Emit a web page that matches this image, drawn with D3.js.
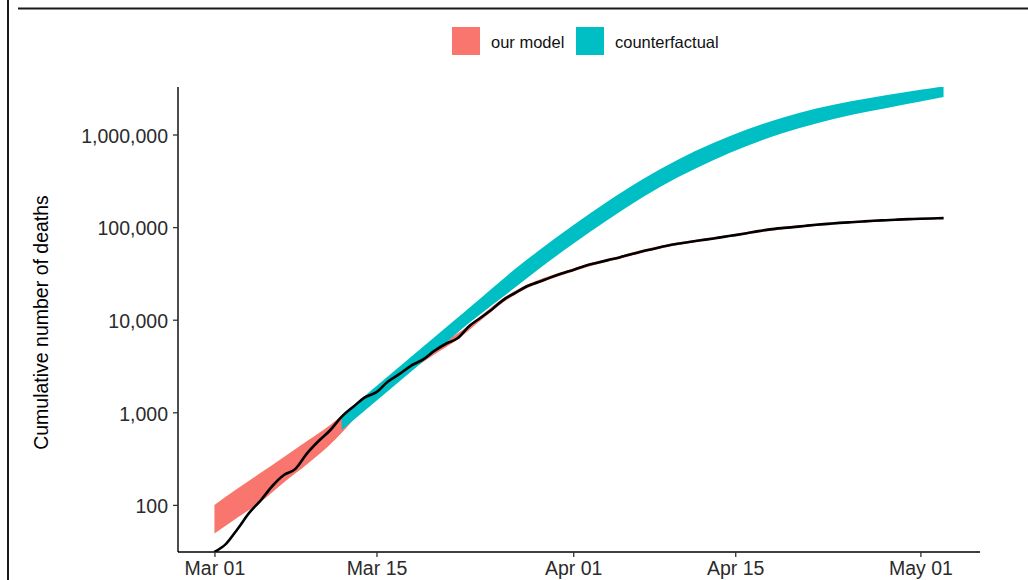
<!DOCTYPE html>
<html>
<head>
<meta charset="utf-8">
<script src="https://cdn.jsdelivr.net/npm/d3@7"></script>
<style>
  body { margin: 0; background: #fff; }
  svg { display: block; }
  text { font-family: "Liberation Sans", Arial, Helvetica, sans-serif; }
</style>
</head>
<body>
<svg id="chart" width="1028" height="580"></svg>
<script>
// ---- data -------------------------------------------------------------
const startDate = new Date(Date.UTC(2020, 2, 1));

// Observed cumulative deaths, one value per day from 1 March
const observedDeaths = [
  31, 38, 55, 82, 112, 160, 210, 245, 360, 490,
  640, 900, 1150, 1450, 1650, 2150, 2600, 3200, 3700, 4600,
  5500, 6300, 8500, 10500, 13000, 16500, 19500, 23000, 25500, 28500,
  31500, 34500, 38000, 41000, 44000, 47000, 51000, 55000, 58500, 62500,
  66000, 69000, 72000, 75000, 78500, 82000, 86000, 90500, 94500, 97500,
  100000, 103000, 106000, 108500, 111000, 113000, 115000, 117000, 118800, 120500,
  122000, 123000, 124000, 125000
];

// Model credible interval ("our model"), day offsets from 1 March
const modelDays = [0, 2, 4, 6, 8, 10, 11, 13, 15, 17, 19, 21, 23, 25, 27, 29, 31,
                   33, 35, 37, 39, 41, 43, 45, 47, 49, 51, 53, 55, 57, 59, 61, 63];
const modelLow  = [49, 73, 108, 175, 275, 450, 600, 1150, 1900, 2850, 4200, 6100, 9800,
                   15500, 21800, 27400, 33200, 39500, 45500, 53000, 60500, 67000, 73000,
                   80000, 87500, 94500, 100000, 105500, 110000, 114000, 117500, 120000, 122000];
const modelHigh = [100, 150, 222, 330, 490, 730, 930, 1480, 2300, 3450, 5000, 7100, 11000,
                   17300, 23800, 29800, 35800, 42500, 48800, 57000, 64500, 71000, 77500,
                   84500, 93000, 100500, 106000, 111500, 116000, 120000, 123500, 126000, 128500];

// Counterfactual interval (no interventions), day offsets from 1 March
const cfDays = [11, 13, 15, 17, 19, 21, 22, 24, 26, 28, 31, 34, 37, 40, 43, 46, 49,
                52, 55, 58, 61, 63];
const cfLow  = [646, 1047, 1698, 2754, 4467, 7244, 9226, 14450, 22390, 35080, 66070,
                120200, 209900, 342800, 522400, 753400, 1025700, 1318300, 1621800,
                1927500, 2275100, 2535400];
const cfHigh = [933, 1514, 2455, 3981, 6457, 10471, 13340, 21880, 35480, 55590, 104700,
                190500, 329600, 530900, 798000, 1129800, 1510100, 1905500, 2290900,
                2660700, 3040900, 3311300];

const yTicks = [100, 1000, 10000, 100000, 1000000];
const xTicks = ["2020-03-01", "2020-03-15", "2020-04-01", "2020-04-15", "2020-05-01"];
const seriesNames = ["our model", "counterfactual"];
const seriesColors = ["#F8766D", "#00BFC4"];

// ---- layout -----------------------------------------------------------
const svg = d3.select("#chart");
const plot = { left: 178, right: 980, top: 87, bottom: 552 };
const dayDate = d => d3.utcDay.offset(startDate, d);

// x: data span plus 5% padding on each side
const span = [dayDate(0), dayDate(observedDeaths.length - 1)];
const pad = (span[1] - span[0]) * 0.05;
const x = d3.scaleUtc()
  .domain([new Date(+span[0] - pad), new Date(+span[1] + pad)])
  .range([plot.left, plot.right]);
const y = d3.scaleLog()
  .domain([31, 3.26e6])
  .range([plot.bottom, plot.top]);

// outer frame pieces
svg.append("line").attr("x1", 8).attr("x2", 8).attr("y1", 0).attr("y2", 580)
  .attr("stroke", "#1a1a1a").attr("stroke-width", 2);
svg.append("line").attr("x1", 18).attr("x2", 1028).attr("y1", 8.5).attr("y2", 8.5)
  .attr("stroke", "#1a1a1a").attr("stroke-width", 2);

svg.append("clipPath").attr("id", "plotClip").append("rect")
  .attr("x", plot.left).attr("y", plot.top)
  .attr("width", plot.right - plot.left).attr("height", plot.bottom - plot.top);

const g = svg.append("g").attr("clip-path", "url(#plotClip)");

const band = (days, lo, hi) => d3.area()
  .x((d, i) => x(dayDate(days[i])))
  .y0((d, i) => y(lo[i]))
  .y1((d, i) => y(hi[i]))
  .curve(d3.curveMonotoneX)(days);

g.append("path").attr("d", band(modelDays, modelLow, modelHigh))
  .attr("fill", seriesColors[0]);
g.append("path").attr("d", band(cfDays, cfLow, cfHigh))
  .attr("fill", seriesColors[1]);

g.append("path")
  .datum(observedDeaths)
  .attr("d", d3.line()
    .x((d, i) => x(dayDate(i)))
    .y(d => y(d))
    .curve(d3.curveMonotoneX))
  .attr("fill", "none")
  .attr("stroke", "#000")
  .attr("stroke-width", 2.6)
  .attr("stroke-linejoin", "round");

// ---- axes -------------------------------------------------------------
const yAxis = svg.append("g")
  .attr("transform", `translate(${plot.left},0)`)
  .call(d3.axisLeft(y).tickValues(yTicks).tickFormat(d3.format(",")).tickSizeOuter(0).tickSize(5).tickPadding(5));
yAxis.select(".domain").attr("stroke", "#000").attr("stroke-width", 1.4)
  .attr("d", `M0,${plot.top}V${plot.bottom}`);
yAxis.selectAll(".tick line").attr("stroke", "#333").attr("stroke-width", 1.3);
yAxis.selectAll(".tick text").attr("font-size", 19.5).attr("fill", "#2b2b2b")
  .attr("font-family", "Liberation Sans, Arial, sans-serif").attr("dy", "0.4em");

const xAxis = svg.append("g")
  .attr("transform", `translate(0,${plot.bottom})`)
  .call(d3.axisBottom(x).tickValues(xTicks.map(s => new Date(s + "T00:00:00Z")))
    .tickFormat(d3.utcFormat("%b %d")).tickSizeOuter(0).tickSize(5).tickPadding(4));
xAxis.select(".domain").attr("stroke", "#000").attr("stroke-width", 1.4)
  .attr("d", `M${plot.left},0H${plot.right}`);
xAxis.selectAll(".tick line").attr("stroke", "#333").attr("stroke-width", 1.3);
xAxis.selectAll(".tick text").attr("font-size", 19.5).attr("fill", "#2b2b2b")
  .attr("font-family", "Liberation Sans, Arial, sans-serif");

svg.append("text")
  .attr("transform", `translate(48,${(plot.top + plot.bottom) / 2 + 3}) rotate(-90)`)
  .attr("text-anchor", "middle")
  .attr("font-size", 19.5)
  .attr("fill", "#000")
  .text("Cumulative number of deaths");

// ---- legend -----------------------------------------------------------
const legendX = [452, 576];
const legend = svg.append("g");
seriesNames.forEach((name, i) => {
  legend.append("rect").attr("x", legendX[i]).attr("y", 27).attr("width", 28).attr("height", 28)
    .attr("fill", seriesColors[i]);
  legend.append("text").attr("x", legendX[i] + 39).attr("y", 47.5)
    .attr("font-size", 16.5).attr("fill", "#111").text(name);
});
</script>
</body>
</html>
